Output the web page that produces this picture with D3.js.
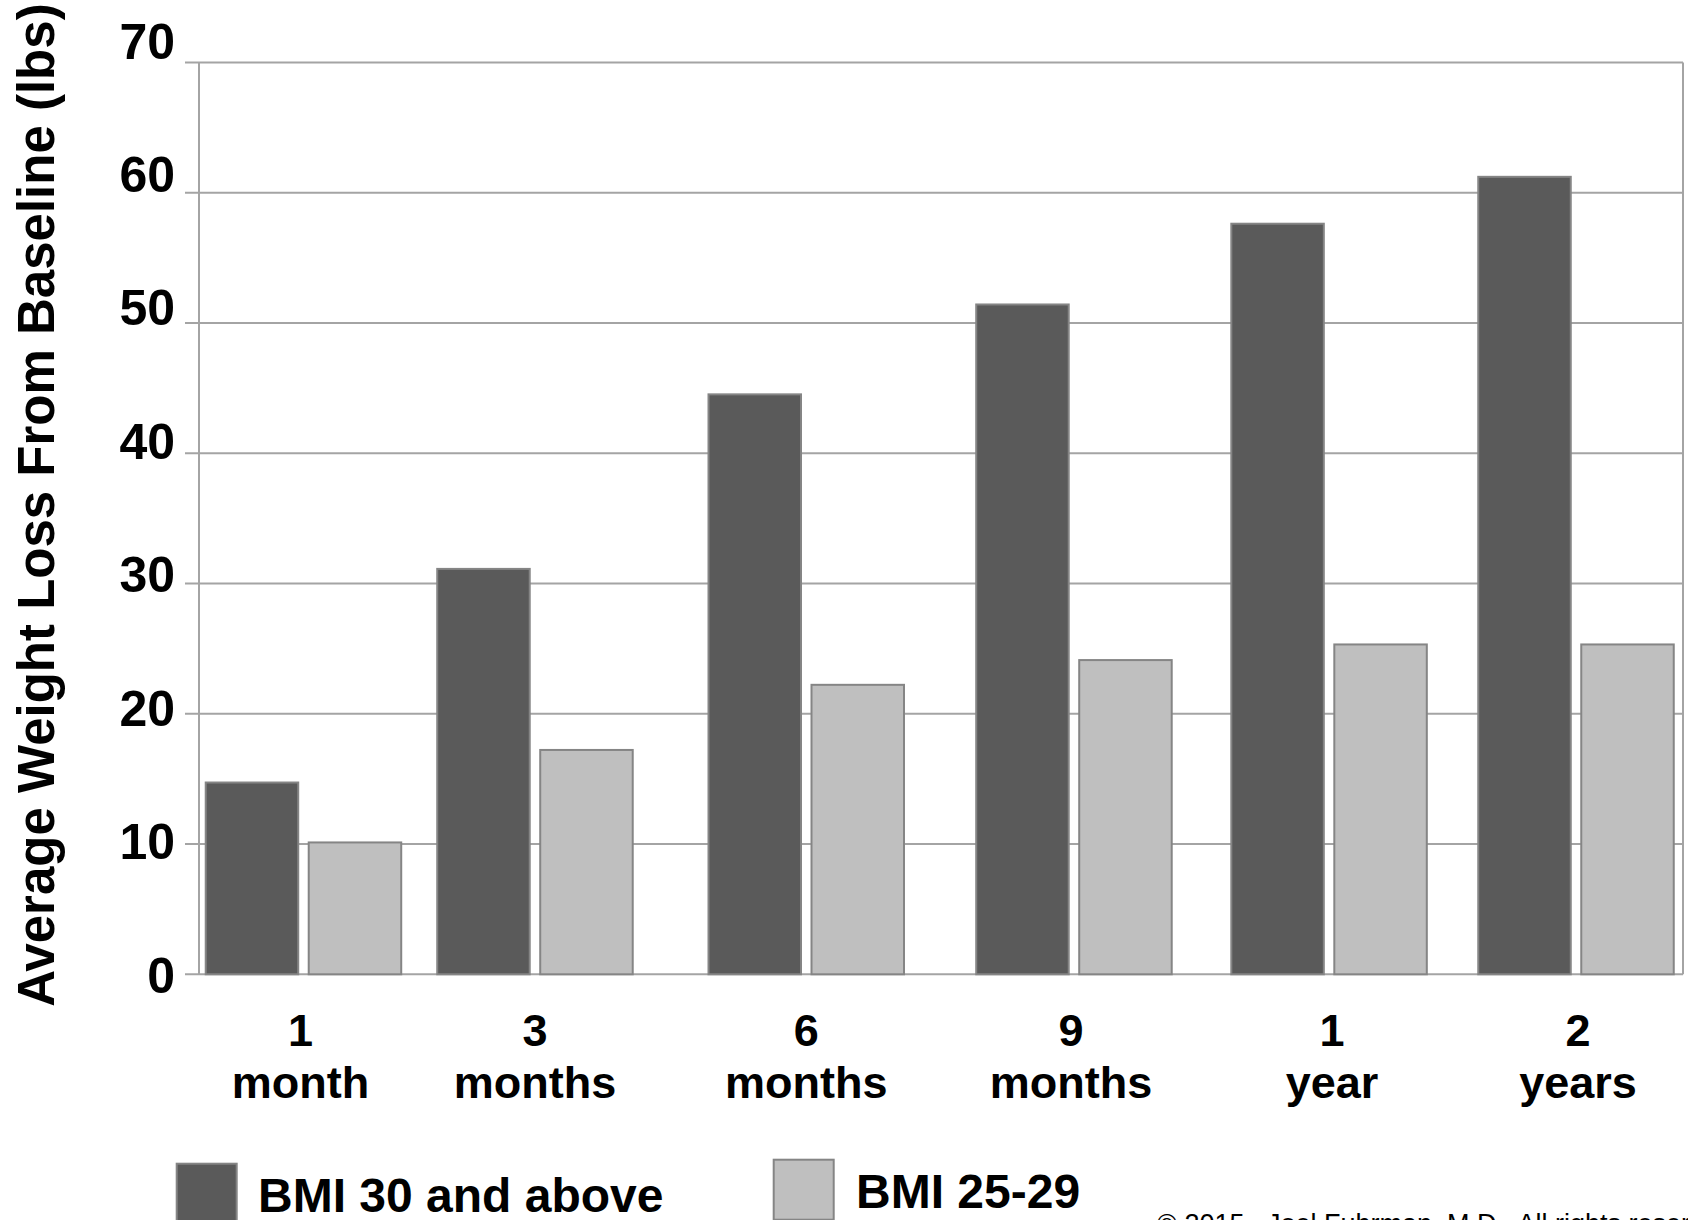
<!DOCTYPE html>
<html>
<head>
<meta charset="utf-8">
<title>Average Weight Loss From Baseline</title>
<script src="https://cdn.jsdelivr.net/npm/d3@7"></script>
<style>
  html, body { margin: 0; padding: 0; background: #ffffff; }
  svg { display: block; font-family: "Liberation Sans", Arial, Helvetica, sans-serif; }
</style>
</head>
<body>
<svg id="chart" width="1688" height="1220"></svg>
<script>
// ---- data ----
const periods = ["1 month", "3 months", "6 months", "9 months", "1 year", "2 years"];
const periodNumbers = ["1", "3", "6", "9", "1", "2"];
const periodUnits = ["month", "months", "months", "months", "year", "years"];
const seriesNames = ["BMI 30 and above", "BMI 25-29"];
const bmi30AndAbove = [14.8, 31.2, 44.6, 51.5, 57.7, 61.3];
const bmi25to29 = [10.2, 17.3, 22.3, 24.2, 25.4, 25.4];
const yTickValues = [0, 10, 20, 30, 40, 50, 60, 70];
const yTitle = "Average Weight Loss From Baseline (lbs)";
const copyright = "\u00A9 2015,  Joel Fuhrman, M.D.  All rights reserved.";

// ---- layout ----
const plot = { left: 199, right: 1683, top: 62.5, bottom: 974.3 };
const plotW = plot.right - plot.left;
// relative position of each period group across the plot width
const groupSlots = [0.0704, 0.2264, 0.4092, 0.5896, 0.7615, 0.9279];
// small horizontal nudges of the category labels relative to their groups
const labelNudge = [-3, 0, 0, -3, 3, 2];
const colors = { "BMI 30 and above": "#5a5a5a", "BMI 25-29": "#bfbfbf" };
const gridColor = "#a4a4a4";
const barStroke = "#858585";

const rows = periods.map((p, i) => ({
  period: p,
  values: [
    { series: seriesNames[0], value: bmi30AndAbove[i] },
    { series: seriesNames[1], value: bmi25to29[i] }
  ]
}));

const svg = d3.select("#chart");

// scales
const y = d3.scaleLinear().domain([0, 70]).range([plot.bottom, plot.top]);
// tick labels are spaced slightly wider than the gridlines
const yLabel = d3.scaleLinear().domain([0, 70]).range([974.5, 40.5]);
const xGroup = d3.scaleOrdinal()
  .domain(periods)
  .range(groupSlots.map(f => plot.left + f * plotW));
const xInner = d3.scaleBand()
  .domain(seriesNames)
  .range([-98.75, 98.75])
  .paddingInner(0.0825);

// gridlines (with short tick extension left of the axis)
svg.append("g")
  .selectAll("line")
  .data(yTickValues)
  .join("line")
  .attr("x1", plot.left - 14)
  .attr("x2", plot.right)
  .attr("y1", d => y(d))
  .attr("y2", d => y(d))
  .attr("stroke", gridColor)
  .attr("stroke-width", 2);

// left and right frame lines
svg.append("line")
  .attr("x1", plot.left).attr("x2", plot.left)
  .attr("y1", y(70)).attr("y2", y(0))
  .attr("stroke", gridColor).attr("stroke-width", 2);
svg.append("line")
  .attr("x1", plot.right).attr("x2", plot.right)
  .attr("y1", y(70)).attr("y2", y(0))
  .attr("stroke", gridColor).attr("stroke-width", 2);

// bars
const groups = svg.append("g")
  .selectAll("g")
  .data(rows)
  .join("g")
  .attr("transform", d => `translate(${xGroup(d.period)},0)`);

groups.selectAll("rect")
  .data(d => d.values)
  .join("rect")
  .attr("x", d => xInner(d.series) + 1)
  .attr("width", xInner.bandwidth() - 2)
  .attr("y", d => y(d.value) + 1)
  .attr("height", d => y(0) - y(d.value) - 1)
  .attr("fill", d => colors[d.series])
  .attr("stroke", barStroke)
  .attr("stroke-width", 2);

// y tick labels
svg.append("g")
  .selectAll("text")
  .data(yTickValues)
  .join("text")
  .attr("x", 175)
  .attr("y", d => yLabel(d) + 18)
  .attr("text-anchor", "end")
  .attr("font-size", 50)
  .attr("font-weight", "bold")
  .attr("fill", "#000")
  .text(d => d3.format("d")(d));

// x category labels (two lines)
const xl = svg.append("g")
  .selectAll("text")
  .data(periods)
  .join("text")
  .attr("text-anchor", "middle")
  .attr("font-size", 45)
  .attr("font-weight", "bold")
  .attr("fill", "#000");
xl.append("tspan")
  .attr("x", (d, i) => xGroup(d) + labelNudge[i])
  .attr("y", 1046)
  .text((d, i) => periodNumbers[i]);
xl.append("tspan")
  .attr("x", (d, i) => xGroup(d) + labelNudge[i])
  .attr("y", 1098)
  .text((d, i) => periodUnits[i]);

// y axis title
svg.append("text")
  .attr("transform", "translate(54,505) rotate(-90)")
  .attr("text-anchor", "middle")
  .attr("font-size", 51)
  .attr("font-weight", "bold")
  .attr("fill", "#000")
  .text(yTitle);

// legend
const legendItems = [
  { name: seriesNames[0], box: [175.7, 1162.7], text: [258, 1212] },
  { name: seriesNames[1], box: [772.7, 1158.7], text: [856, 1208.3] }
];
const lg = svg.append("g")
  .selectAll("g")
  .data(legendItems)
  .join("g");
lg.append("rect")
  .attr("x", d => d.box[0] + 1)
  .attr("y", d => d.box[1] + 1)
  .attr("width", 60)
  .attr("height", 60)
  .attr("fill", d => colors[d.name])
  .attr("stroke", barStroke)
  .attr("stroke-width", 2);
lg.append("text")
  .attr("x", d => d.text[0])
  .attr("y", d => d.text[1])
  .attr("font-size", 48)
  .attr("font-weight", "bold")
  .attr("fill", "#000")
  .text(d => d.name);

// copyright line
svg.append("text")
  .attr("x", 1157)
  .attr("y", 1233)
  .attr("font-size", 27)
  .attr("fill", "#000")
  .attr("xml:space", "preserve")
  .text(copyright);
</script>
</body>
</html>
